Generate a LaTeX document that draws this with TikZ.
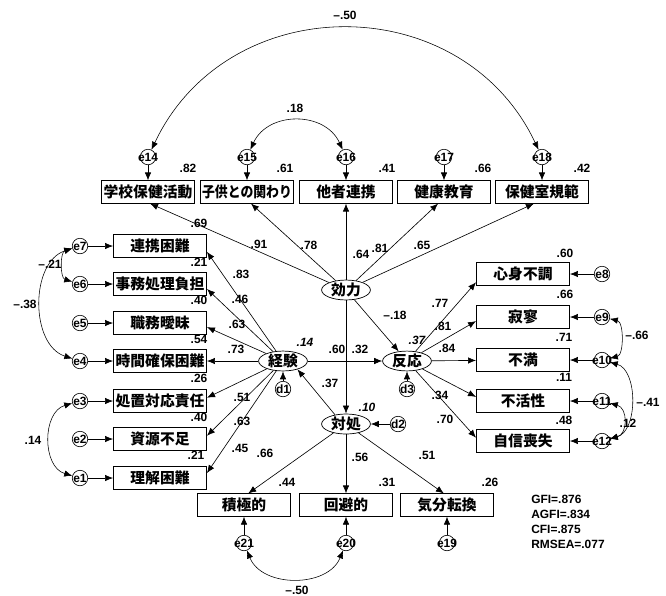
\documentclass[tikz,border=0pt]{standalone}
\usepackage{fontspec}
\usepackage{graphicx}
\setmainfont{Liberation Sans}
\newfontfamily\jpfont{Noto Sans CJK JP}
\usepackage{tikz}
\usetikzlibrary{arrows.meta,shapes.geometric}
\tikzset{
  obsbox/.style={draw,line width=0.5pt,minimum width=2.33cm,minimum height=0.56cm,
                 inner sep=1pt,font=\jpfont\bfseries\fontsize{10.5}{12}\selectfont},
  latent/.style={draw,ellipse,line width=0.5pt,minimum width=1.22cm,minimum height=0.48cm,
                 inner sep=0pt,font=\jpfont\bfseries\fontsize{10.5}{12}\selectfont},
  errc/.style={draw,circle,line width=0.45pt,minimum size=11pt,inner sep=-5pt,
               font=\bfseries\fontsize{8.5}{10}\selectfont},
  coef/.style={inner sep=0pt,font=\bfseries\fontsize{8.5}{10}\selectfont},
  rsq/.style={inner sep=0pt,font=\bfseries\itshape\fontsize{8.5}{10}\selectfont},
  arr/.style={-{Latex[length=2mm,width=1.6mm]},line width=0.45pt},
  cov/.style={{Latex[length=2mm,width=1.6mm]}-{Latex[length=2mm,width=1.6mm]},line width=0.4pt}
}

\begin{document}
\begin{tikzpicture}[x=0.025cm,y=-0.025cm]
  \useasboundingbox (0,0) rectangle (666,595);

  \node[obsbox] (gakko) at (148,192) {学校保健活動};
  \node[obsbox] (kodomo) at (247,192) {\scalebox{0.87}[1]{子供との関わり}};
  \node[obsbox] (tasha) at (346,192) {他者連携};
  \node[obsbox] (kenko) at (444,192) {健康教育};
  \node[obsbox] (hoken) at (542,192) {保健室規範};
  \node[errc] (e14) at (148,157) {e14};
  \node[errc] (e15) at (247,157) {e15};
  \node[errc] (e16) at (346,157) {e16};
  \node[errc] (e17) at (444,157) {e17};
  \node[errc] (e18) at (542,157) {e18};

  \node[obsbox] (renkei) at (160,246) {連携困難};
  \node[obsbox] (jimu) at (160,284) {事務処理負担};
  \node[obsbox] (shokumu) at (160,323) {職務曖昧};
  \node[obsbox] (jikan) at (160,361) {時間確保困難};
  \node[obsbox] (shochi) at (160,401) {処置対応責任};
  \node[obsbox] (shigen) at (160,439) {資源不足};
  \node[obsbox] (rikai) at (160,478) {理解困難};
  \node[errc] (e7) at (80,246) {e7};
  \node[errc] (e6) at (80,284) {e6};
  \node[errc] (e5) at (80,323) {e5};
  \node[errc] (e4) at (80,361) {e4};
  \node[errc] (e3) at (80,401) {e3};
  \node[errc] (e2) at (80,439) {e2};
  \node[errc] (e1) at (80,478) {e1};

  \node[obsbox] (shinshin) at (523,274) {心身不調};
  \node[obsbox] (sekiryo) at (523,317) {寂寥};
  \node[obsbox] (fuman) at (523,360) {不満};
  \node[obsbox] (fukassei) at (523,401) {不活性};
  \node[obsbox] (jishin) at (523,441) {自信喪失};
  \node[errc] (e8) at (602,274) {e8};
  \node[errc] (e9) at (602,317) {e9};
  \node[errc] (e10) at (602,360) {e10};
  \node[errc] (e11) at (602,401) {e11};
  \node[errc] (e12) at (602,441) {e12};

  \node[obsbox] (sekkyoku) at (244,505) {積極的};
  \node[obsbox] (kaihi) at (346,505) {回避的};
  \node[obsbox] (kibun) at (447,505) {気分転換};
  \node[errc] (e21) at (244,543) {e21};
  \node[errc] (e20) at (346,543) {e20};
  \node[errc] (e19) at (447,543) {e19};

  \node[latent] (kouryoku) at (346,290) {効力};
  \node[latent] (keiken) at (283,361) {経験};
  \node[latent] (hannou) at (407,361) {反応};
  \node[latent] (taisho) at (346,424) {対処};
  \node[errc] (d1) at (283,389) {d1};
  \node[errc] (d3) at (407,389) {d3};
  \node[errc] (d2) at (398,424) {d2};

  \draw[arr] (e14) -- (gakko);
  \draw[arr] (e15) -- (kodomo);
  \draw[arr] (e16) -- (tasha);
  \draw[arr] (e17) -- (kenko);
  \draw[arr] (e18) -- (hoken);
  \draw[arr] (e7) -- (renkei);
  \draw[arr] (e6) -- (jimu);
  \draw[arr] (e5) -- (shokumu);
  \draw[arr] (e4) -- (jikan);
  \draw[arr] (e3) -- (shochi);
  \draw[arr] (e2) -- (shigen);
  \draw[arr] (e1) -- (rikai);
  \draw[arr] (e8) -- (shinshin);
  \draw[arr] (e9) -- (sekiryo);
  \draw[arr] (e10) -- (fuman);
  \draw[arr] (e11) -- (fukassei);
  \draw[arr] (e12) -- (jishin);
  \draw[arr] (e21) -- (sekkyoku);
  \draw[arr] (e20) -- (kaihi);
  \draw[arr] (e19) -- (kibun);
  \draw[arr] (d1) -- (keiken);
  \draw[arr] (d3) -- (hannou);
  \draw[arr] (d2) -- (taisho);

  \draw[arr] (kouryoku) -- (gakko.-80);
  \draw[arr] (kouryoku) -- (kodomo.-71);
  \draw[arr] (kouryoku) -- (tasha);
  \draw[arr] (kouryoku) -- (kenko.-117);
  \draw[arr] (kouryoku) -- (hoken.-125);
  \draw[arr] (keiken) -- (renkei.-7);
  \draw[arr] (keiken) -- (jimu.-6);
  \draw[arr] (keiken) -- (shokumu.-5);
  \draw[arr] (keiken) -- (jikan);
  \draw[arr] (keiken) -- (shochi.4);
  \draw[arr] (keiken) -- (shigen.4);
  \draw[arr] (keiken) -- (rikai.6);
  \draw[arr] (hannou) -- (shinshin.190);
  \draw[arr] (hannou) -- (sekiryo.185);
  \draw[arr] (hannou) -- (fuman);
  \draw[arr] (hannou) -- (fukassei.175);
  \draw[arr] (hannou) -- (jishin.176);
  \draw[arr] (taisho) -- (sekkyoku.70);
  \draw[arr] (taisho) -- (kaihi);
  \draw[arr] (taisho) -- (kibun.105);
  \draw[arr] (kouryoku) -- (taisho);
  \draw[arr] (kouryoku) -- (hannou);
  \draw[arr] (keiken) -- (hannou);
  \draw[arr] (taisho.140) -- (keiken.-30);

  \draw[cov] (e14) .. controls (228,-12) and (462,-12) .. (e18);
  \draw[cov] (e15) .. controls (268,111) and (325,111) .. (e16);
  \draw[cov] (e7) .. controls (60,252) and (60,278) .. (e6);
  \draw[cov] (e7) .. controls (30,262) and (30,345) .. (e4);
  \draw[cov] (e3) .. controls (42,412) and (42,467) .. (e1);
  \draw[cov] (e9) .. controls (624,322) and (624,355) .. (e10);
  \draw[cov] (e10) .. controls (638,370) and (638,431) .. (e12);
  \draw[cov] (e11) .. controls (628,408) and (628,434) .. (e12);
  \draw[cov] (e21) .. controls (262,588) and (328,588) .. (e20);

  \node[coef] (c1450) at (345,15) {–.50};
  \node[coef] (c1516) at (295,108) {.18};
  \node[coef] (r14) at (188,168) {.82};
  \node[coef] (r15) at (285,168) {.61};
  \node[coef] (r16) at (387,168) {.41};
  \node[coef] (r17) at (483,168) {.66};
  \node[coef] (r18) at (582,168) {.42};
  \node[coef] (r7) at (199,223) {.69};
  \node[coef] (l14) at (259,244) {.91};
  \node[coef] (l15) at (309,245) {.78};
  \node[coef] (l16) at (361,254) {.64};
  \node[coef] (l17) at (380,248) {.81};
  \node[coef] (l18) at (422,245) {.65};

  \node[coef] (c76) at (50,264) {–.21};
  \node[coef] (c74) at (25,304) {–.38};
  \node[coef] (c31) at (33,440) {.14};
  \node[coef] (r6) at (199,262) {.21};
  \node[coef] (r5) at (199,300) {.40};
  \node[coef] (r4) at (199,339) {.54};
  \node[coef] (r3) at (199,378) {.26};
  \node[coef] (r2) at (199,417) {.40};
  \node[coef] (r1) at (196,455) {.21};
  \node[coef] (l7) at (241,274) {.83};
  \node[coef] (l6) at (240,299) {.46};
  \node[coef] (l5) at (237,324) {.63};
  \node[coef] (l4) at (236,349) {.73};
  \node[coef] (l3) at (242,397) {.51};
  \node[coef] (l2) at (242,421) {.63};
  \node[coef] (l1) at (240,448) {.45};

  \node[rsq] (rkeiken) at (305,342) {.14};
  \node[rsq] (rhannou) at (417,340) {.37};
  \node[rsq] (rtaisho) at (367,407) {.10};
  \node[coef] (p1) at (337,349) {.60};
  \node[coef] (p2) at (360,349) {.32};
  \node[coef] (p3) at (395,315) {–.18};
  \node[coef] (p4) at (330,383) {.37};

  \node[coef] (r8) at (565,253) {.60};
  \node[coef] (r9) at (565,294) {.66};
  \node[coef] (r10) at (564,337) {.71};
  \node[coef] (r11) at (564,377) {.11};
  \node[coef] (r12) at (564,420) {.48};
  \node[coef] (l8) at (440,303) {.77};
  \node[coef] (l9) at (443,326) {.81};
  \node[coef] (l10) at (447,348) {.84};
  \node[coef] (l11) at (440,395) {.34};
  \node[coef] (l12) at (445,419) {.70};
  \node[coef] (c910) at (637,335) {–.66};
  \node[coef] (c1012) at (648,402) {–.41};
  \node[coef] (c1112) at (628,423) {.12};

  \node[coef] (l21) at (265,453) {.66};
  \node[coef] (l20) at (360,457) {.56};
  \node[coef] (l19) at (427,455) {.51};
  \node[coef] (r21) at (287,482) {.44};
  \node[coef] (r20) at (387,482) {.31};
  \node[coef] (r19) at (490,482) {.26};
  \node[coef] (c2120) at (297,590) {–.50};

  \node[coef,anchor=north west,align=left,font=\bfseries\fontsize{8.5}{10.7}\selectfont] (fit) at (531,495)
    {GFI=.876\\AGFI=.834\\CFI=.875\\RMSEA=.077};
\end{tikzpicture}
\end{document}
